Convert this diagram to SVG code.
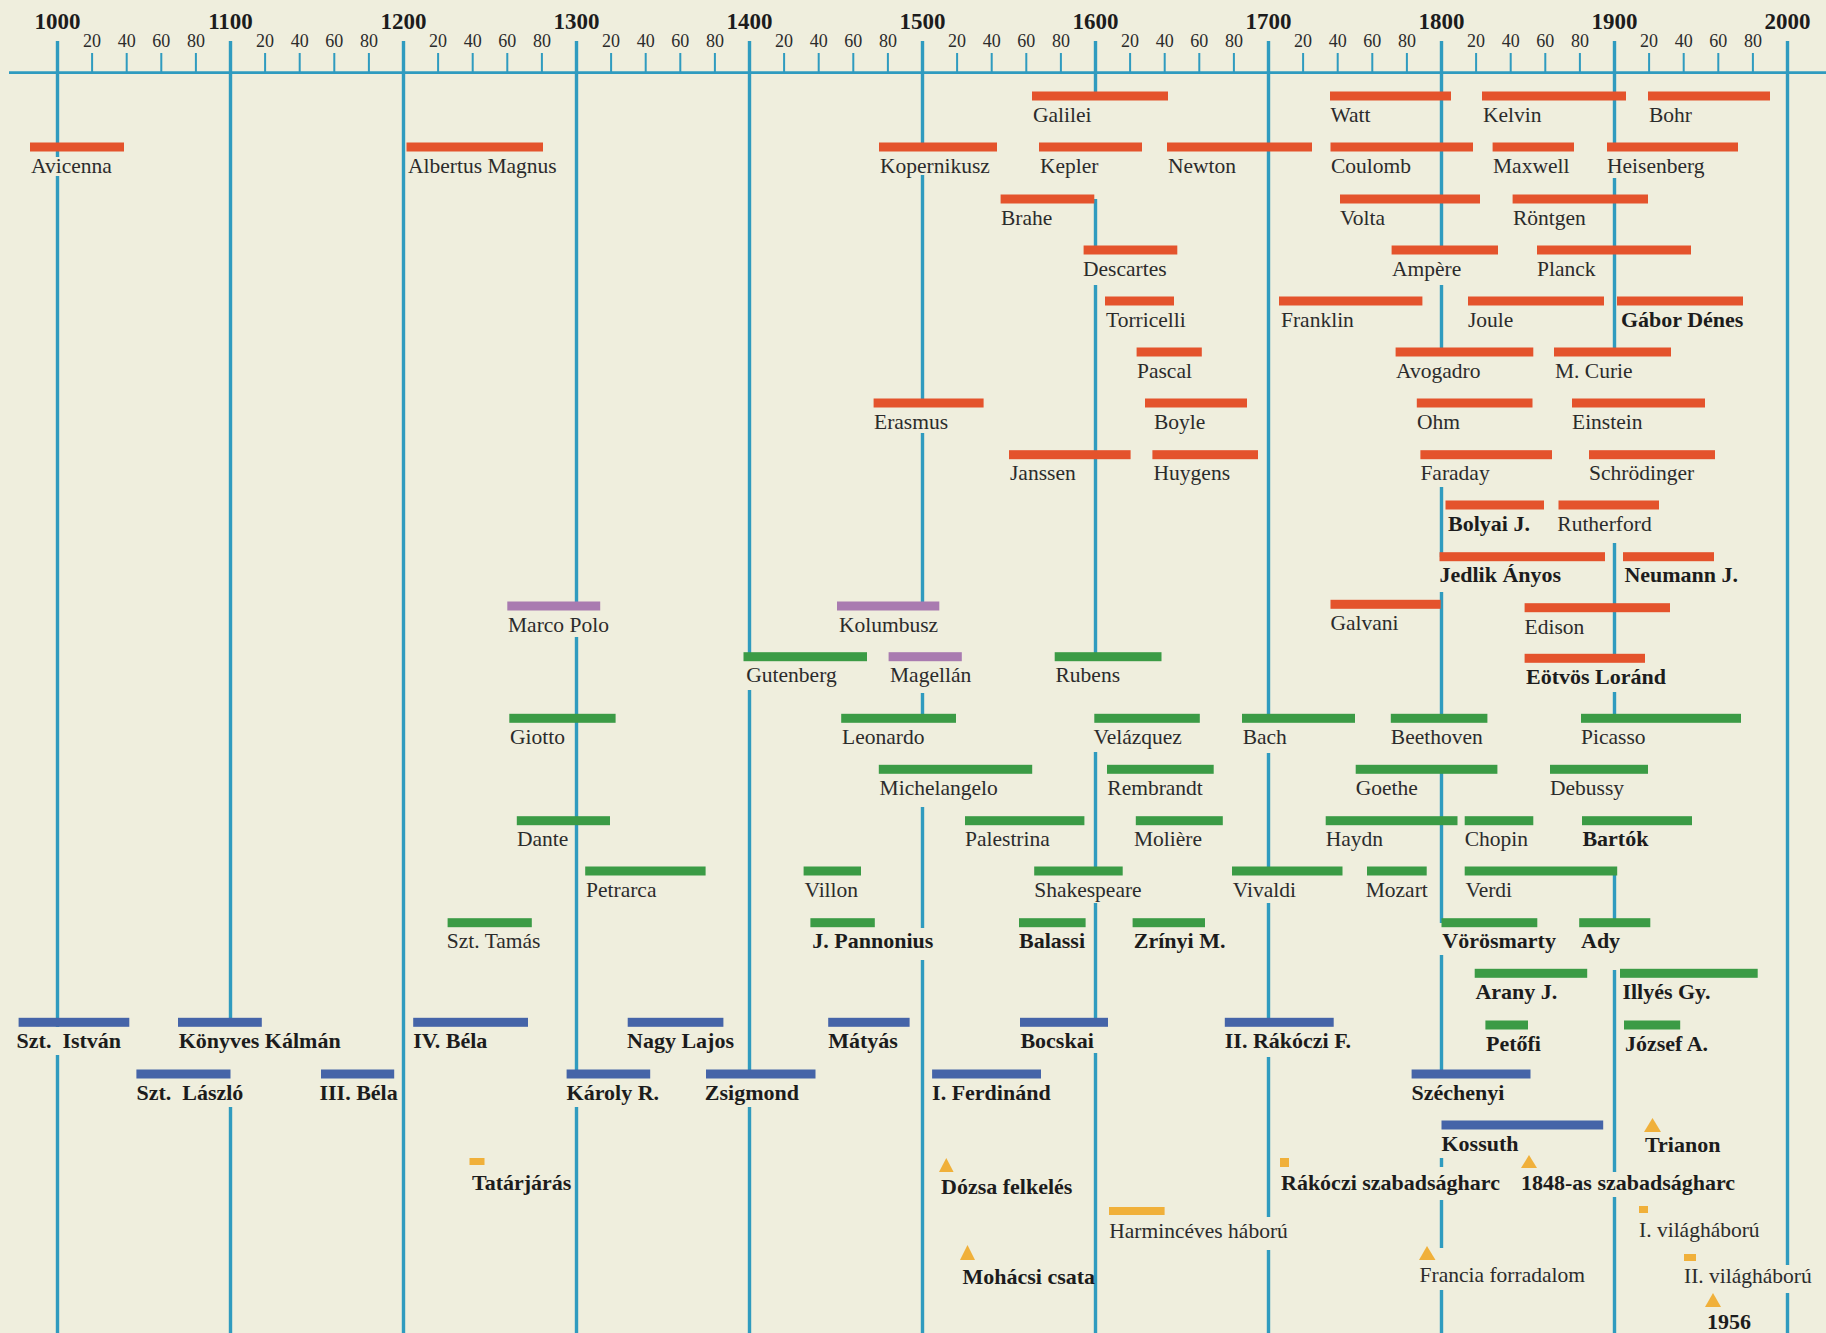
<svg xmlns="http://www.w3.org/2000/svg" width="1826" height="1333" viewBox="0 0 1826 1333">
<style>
.bg{fill:#efeedd}
.ln{stroke:#2f9bbf;stroke-width:3.4;fill:none}
.ax{stroke:#2f9bbf;stroke-width:2.8}
.tk{stroke:#2f9bbf;stroke-width:2}
.r{fill:#e4532c}
.g{fill:#3b9b45}
.b{fill:#4564a8}
.p{fill:#a97bb0}
.y{fill:#f0b03a}
text{font-family:"Liberation Serif","Times New Roman",serif}
.t{font-size:21.5px;fill:#2b2b2b}
.tb{font-size:22px;font-weight:bold;fill:#1c1c1c}
.yr{font-size:23px;font-weight:bold;fill:#1c1c1c;text-anchor:middle}
.mn{font-size:18px;fill:#2b2b2b;text-anchor:middle}
</style>
<rect class="bg" x="0" y="0" width="1826" height="1333"/>

<g id="axis">
<line class="ax" x1="9" y1="72.7" x2="1826" y2="72.7"/>
<g id="minor-ticks">
<path class="tk" d="M92.1 53V72M126.7 53V72M161.3 53V72M195.9 53V72M265.1 53V72M299.7 53V72M334.3 53V72M368.9 53V72M438.1 53V72M472.7 53V72M507.3 53V72M541.9 53V72M611.1 53V72M645.7 53V72M680.3 53V72M714.9 53V72M784.1 53V72M818.7 53V72M853.3 53V72M887.9 53V72M957.1 53V72M991.7 53V72M1026.3 53V72M1060.9 53V72M1130.1 53V72M1164.7 53V72M1199.3 53V72M1233.9 53V72M1303.1 53V72M1337.7 53V72M1372.3 53V72M1406.9 53V72M1476.1 53V72M1510.7 53V72M1545.3 53V72M1579.9 53V72M1649.1 53V72M1683.7 53V72M1718.3 53V72M1752.9 53V72"/>
</g>
<g id="year-labels">
<text class="yr" x="57.5" y="29">1000</text>
<text class="yr" x="230.5" y="29">1100</text>
<text class="yr" x="403.5" y="29">1200</text>
<text class="yr" x="576.5" y="29">1300</text>
<text class="yr" x="749.5" y="29">1400</text>
<text class="yr" x="922.5" y="29">1500</text>
<text class="yr" x="1095.5" y="29">1600</text>
<text class="yr" x="1268.5" y="29">1700</text>
<text class="yr" x="1441.5" y="29">1800</text>
<text class="yr" x="1614.5" y="29">1900</text>
<text class="yr" x="1787.5" y="29">2000</text>
</g>
<g id="minor-labels">
<text class="mn" x="92.1" y="47">20</text><text class="mn" x="126.7" y="47">40</text><text class="mn" x="161.3" y="47">60</text><text class="mn" x="195.9" y="47">80</text>
<text class="mn" x="265.1" y="47">20</text><text class="mn" x="299.7" y="47">40</text><text class="mn" x="334.3" y="47">60</text><text class="mn" x="368.9" y="47">80</text>
<text class="mn" x="438.1" y="47">20</text><text class="mn" x="472.7" y="47">40</text><text class="mn" x="507.3" y="47">60</text><text class="mn" x="541.9" y="47">80</text>
<text class="mn" x="611.1" y="47">20</text><text class="mn" x="645.7" y="47">40</text><text class="mn" x="680.3" y="47">60</text><text class="mn" x="714.9" y="47">80</text>
<text class="mn" x="784.1" y="47">20</text><text class="mn" x="818.7" y="47">40</text><text class="mn" x="853.3" y="47">60</text><text class="mn" x="887.9" y="47">80</text>
<text class="mn" x="957.1" y="47">20</text><text class="mn" x="991.7" y="47">40</text><text class="mn" x="1026.3" y="47">60</text><text class="mn" x="1060.9" y="47">80</text>
<text class="mn" x="1130.1" y="47">20</text><text class="mn" x="1164.7" y="47">40</text><text class="mn" x="1199.3" y="47">60</text><text class="mn" x="1233.9" y="47">80</text>
<text class="mn" x="1303.1" y="47">20</text><text class="mn" x="1337.7" y="47">40</text><text class="mn" x="1372.3" y="47">60</text><text class="mn" x="1406.9" y="47">80</text>
<text class="mn" x="1476.1" y="47">20</text><text class="mn" x="1510.7" y="47">40</text><text class="mn" x="1545.3" y="47">60</text><text class="mn" x="1579.9" y="47">80</text>
<text class="mn" x="1649.1" y="47">20</text><text class="mn" x="1683.7" y="47">40</text><text class="mn" x="1718.3" y="47">60</text><text class="mn" x="1752.9" y="47">80</text>
</g>
</g>

<g id="connectors">
<path class="ln" d="M57.5 41V157M57.5 176V1027M57.5 1055V1333"/>
<path class="ln" d="M230.5 41V1022M230.5 1107V1333"/>
<path class="ln" d="M403.5 41V1333"/>
<path class="ln" d="M576.5 41V606M576.5 637V1074M576.5 1107V1333"/>
<path class="ln" d="M749.5 41V657M749.5 690V1074M749.5 1107V1333"/>
<path class="ln" d="M922.5 41V147M922.5 175V403M922.5 433V606M922.5 693V718M922.5 807V928M922.5 960V1333"/>
<path class="ln" d="M1095.5 41V96M1095.5 199V250M1095.5 285V657M1095.5 752V871M1095.5 903V1022M1095.5 1053V1333"/>
<path class="ln" d="M1268.5 41V718M1268.5 753V871M1268.5 903V1022M1268.5 1057V1217M1268.5 1250V1333"/>
<path class="ln" d="M1441.5 41V250M1441.5 285V352M1441.5 487V557M1441.5 592V718M1441.5 769V923M1441.5 955V1074M1441.5 1158V1167M1441.5 1200V1248M1441.5 1290V1333"/>
<path class="ln" d="M1614.5 41V147M1614.5 178V352M1614.5 543V658M1614.5 692V718M1614.5 871V923M1614.5 970V1172M1614.5 1197V1333"/>
<path class="ln" d="M1787.5 41V1265M1787.5 1293V1333"/>
</g>

<g id="scientists">
<g id="galilei"><rect class="r" x="1032" y="91.5" width="136" height="9"/><text class="t" x="1033" y="121.5">Galilei</text></g>
<g id="watt"><rect class="r" x="1330" y="91.5" width="121" height="9"/><text class="t" x="1330.5" y="121.5">Watt</text></g>
<g id="kelvin"><rect class="r" x="1482" y="91.5" width="144" height="9"/><text class="t" x="1483" y="121.5">Kelvin</text></g>
<g id="bohr"><rect class="r" x="1648" y="91.5" width="122" height="9"/><text class="t" x="1649" y="121.5">Bohr</text></g>
<g id="avicenna"><rect class="r" x="30" y="142.5" width="94" height="9"/><text class="t" x="31" y="172.5">Avicenna</text></g>
<g id="albertus"><rect class="r" x="406.5" y="142.5" width="136.5" height="9"/><text class="t" x="408" y="172.5">Albertus Magnus</text></g>
<g id="kopernikusz"><rect class="r" x="879" y="142.5" width="118" height="9"/><text class="t" x="880" y="172.5">Kopernikusz</text></g>
<g id="kepler"><rect class="r" x="1039" y="142.5" width="103" height="9"/><text class="t" x="1040" y="172.5">Kepler</text></g>
<g id="newton"><rect class="r" x="1167" y="142.5" width="145" height="9"/><text class="t" x="1168" y="172.5">Newton</text></g>
<g id="coulomb"><rect class="r" x="1330.5" y="142.5" width="142.5" height="9"/><text class="t" x="1331" y="172.5">Coulomb</text></g>
<g id="maxwell"><rect class="r" x="1492.6" y="142.5" width="81.4" height="9"/><text class="t" x="1493" y="172.5">Maxwell</text></g>
<g id="heisenberg"><rect class="r" x="1607" y="142.5" width="131" height="9"/><text class="t" x="1607" y="172.5">Heisenberg</text></g>
<g id="brahe"><rect class="r" x="1000.6" y="194.5" width="93.7" height="9"/><text class="t" x="1001" y="224.5">Brahe</text></g>
<g id="volta"><rect class="r" x="1340" y="194.5" width="140" height="9"/><text class="t" x="1340" y="224.5">Volta</text></g>
<g id="rontgen"><rect class="r" x="1512.6" y="194.5" width="135.4" height="9"/><text class="t" x="1513" y="224.5">Röntgen</text></g>
<g id="descartes"><rect class="r" x="1083.6" y="245.5" width="93.7" height="9"/><text class="t" x="1083" y="275.5">Descartes</text></g>
<g id="ampere"><rect class="r" x="1391.6" y="245.5" width="106.4" height="9"/><text class="t" x="1392" y="275.5">Ampère</text></g>
<g id="planck"><rect class="r" x="1537" y="245.5" width="154" height="9"/><text class="t" x="1537" y="275.5">Planck</text></g>
<g id="torricelli"><rect class="r" x="1105" y="296.5" width="69" height="9"/><text class="t" x="1106" y="326.5">Torricelli</text></g>
<g id="franklin"><rect class="r" x="1279" y="296.5" width="143.4" height="9"/><text class="t" x="1281" y="326.5">Franklin</text></g>
<g id="joule"><rect class="r" x="1468" y="296.5" width="136" height="9"/><text class="t" x="1468" y="326.5">Joule</text></g>
<g id="gabor"><rect class="r" x="1617" y="296.5" width="126" height="9"/><text class="tb" x="1621" y="326.5">Gábor Dénes</text></g>
<g id="pascal"><rect class="r" x="1136.6" y="347.5" width="65.2" height="9"/><text class="t" x="1137" y="377.5">Pascal</text></g>
<g id="avogadro"><rect class="r" x="1395.6" y="347.5" width="137.7" height="9"/><text class="t" x="1396" y="377.5">Avogadro</text></g>
<g id="curie"><rect class="r" x="1554" y="347.5" width="117" height="9"/><text class="t" x="1555" y="377.5">M. Curie</text></g>
<g id="erasmus"><rect class="r" x="873.6" y="398.5" width="110" height="9"/><text class="t" x="874" y="428.5">Erasmus</text></g>
<g id="boyle"><rect class="r" x="1145" y="398.5" width="102" height="9"/><text class="t" x="1154" y="428.5">Boyle</text></g>
<g id="ohm"><rect class="r" x="1416.8" y="398.5" width="115.7" height="9"/><text class="t" x="1417" y="428.5">Ohm</text></g>
<g id="einstein"><rect class="r" x="1572" y="398.5" width="133" height="9"/><text class="t" x="1572" y="428.5">Einstein</text></g>
<g id="janssen"><rect class="r" x="1009" y="450.2" width="121.6" height="9"/><text class="t" x="1010" y="480">Janssen</text></g>
<g id="huygens"><rect class="r" x="1152.4" y="450.2" width="105.6" height="9"/><text class="t" x="1153.6" y="480">Huygens</text></g>
<g id="faraday"><rect class="r" x="1420.4" y="450.2" width="131.6" height="9"/><text class="t" x="1420.4" y="480">Faraday</text></g>
<g id="schrodinger"><rect class="r" x="1589" y="450.2" width="126" height="9"/><text class="t" x="1589" y="480">Schrödinger</text></g>
<g id="bolyai"><rect class="r" x="1445.5" y="500.5" width="98.5" height="9"/><text class="tb" x="1448" y="530.5">Bolyai J.</text></g>
<g id="rutherford"><rect class="r" x="1558.5" y="500.5" width="100.5" height="9"/><text class="t" x="1557.3" y="530.5">Rutherford</text></g>
<g id="jedlik"><rect class="r" x="1439.5" y="552.2" width="165.5" height="9"/><text class="tb" x="1439.5" y="582">Jedlik Ányos</text></g>
<g id="neumann"><rect class="r" x="1623" y="552.2" width="91" height="9"/><text class="tb" x="1624.4" y="582">Neumann J.</text></g>
<g id="galvani"><rect class="r" x="1330.5" y="599.8" width="110.2" height="9"/><text class="t" x="1330.5" y="630">Galvani</text></g>
<g id="edison"><rect class="r" x="1524.6" y="603.2" width="145.4" height="9"/><text class="t" x="1524.6" y="633.5">Edison</text></g>
<g id="eotvos"><rect class="r" x="1524.6" y="653.8" width="120.4" height="9"/><text class="tb" x="1526" y="683.5">Eötvös Loránd</text></g>
</g>

<g id="explorers">
<g id="marcopolo"><rect class="p" x="507.3" y="601.5" width="92.9" height="9"/><text class="t" x="508" y="631.5">Marco Polo</text></g>
<g id="kolumbusz"><rect class="p" x="837" y="601.5" width="102.3" height="9"/><text class="t" x="839" y="631.5">Kolumbusz</text></g>
<g id="magellan"><rect class="p" x="888.6" y="652.2" width="73.2" height="9"/><text class="t" x="890" y="682">Magellán</text></g>
</g>

<g id="artists">
<g id="gutenberg"><rect class="g" x="743.5" y="652.2" width="123.5" height="9"/><text class="t" x="746.3" y="682">Gutenberg</text></g>
<g id="rubens"><rect class="g" x="1054.7" y="652.2" width="106.8" height="9"/><text class="t" x="1055.5" y="682">Rubens</text></g>
<g id="giotto"><rect class="g" x="509.3" y="713.8" width="106.3" height="9"/><text class="t" x="510" y="744">Giotto</text></g>
<g id="leonardo"><rect class="g" x="841.2" y="713.8" width="114.8" height="9"/><text class="t" x="842" y="744">Leonardo</text></g>
<g id="velazquez"><rect class="g" x="1094.3" y="713.8" width="105.5" height="9"/><text class="t" x="1093.5" y="744">Velázquez</text></g>
<g id="bach"><rect class="g" x="1242" y="713.8" width="113" height="9"/><text class="t" x="1242.7" y="744">Bach</text></g>
<g id="beethoven"><rect class="g" x="1390.8" y="713.8" width="96.6" height="9"/><text class="t" x="1390.8" y="744">Beethoven</text></g>
<g id="picasso"><rect class="g" x="1581" y="713.8" width="160" height="9"/><text class="t" x="1581" y="744">Picasso</text></g>
<g id="michelangelo"><rect class="g" x="878.8" y="764.8" width="153.4" height="9"/><text class="t" x="879.6" y="795">Michelangelo</text></g>
<g id="rembrandt"><rect class="g" x="1107" y="764.8" width="106.7" height="9"/><text class="t" x="1107.3" y="795">Rembrandt</text></g>
<g id="goethe"><rect class="g" x="1355.7" y="764.8" width="141.7" height="9"/><text class="t" x="1355.7" y="795">Goethe</text></g>
<g id="debussy"><rect class="g" x="1550" y="764.8" width="98" height="9"/><text class="t" x="1550" y="795">Debussy</text></g>
<g id="dante"><rect class="g" x="516.8" y="816.2" width="93.2" height="9"/><text class="t" x="517" y="846">Dante</text></g>
<g id="palestrina"><rect class="g" x="965" y="816.2" width="119.4" height="9"/><text class="t" x="965" y="846">Palestrina</text></g>
<g id="moliere"><rect class="g" x="1135.8" y="816.2" width="87" height="9"/><text class="t" x="1134" y="846">Molière</text></g>
<g id="haydn"><rect class="g" x="1325.7" y="816.2" width="131.8" height="9"/><text class="t" x="1325.7" y="846">Haydn</text></g>
<g id="chopin"><rect class="g" x="1464.7" y="816.2" width="68.6" height="9"/><text class="t" x="1464.7" y="846">Chopin</text></g>
<g id="bartok"><rect class="g" x="1582" y="816.2" width="110" height="9"/><text class="tb" x="1582.4" y="846">Bartók</text></g>
<g id="petrarca"><rect class="g" x="585.2" y="866.5" width="120.4" height="9"/><text class="t" x="586" y="896.5">Petrarca</text></g>
<g id="villon"><rect class="g" x="803.6" y="866.5" width="57.4" height="9"/><text class="t" x="804.4" y="896.5">Villon</text></g>
<g id="shakespeare"><rect class="g" x="1034.2" y="866.5" width="88.5" height="9"/><text class="t" x="1034.2" y="896.5">Shakespeare</text></g>
<g id="vivaldi"><rect class="g" x="1232" y="866.5" width="110.5" height="9"/><text class="t" x="1232.7" y="896.5">Vivaldi</text></g>
<g id="mozart"><rect class="g" x="1367" y="866.5" width="59.7" height="9"/><text class="t" x="1365.7" y="896.5">Mozart</text></g>
<g id="verdi"><rect class="g" x="1464.7" y="866.5" width="152.5" height="9"/><text class="t" x="1465.5" y="896.5">Verdi</text></g>
<g id="szttamas"><rect class="g" x="447.6" y="918.2" width="84.2" height="9"/><text class="t" x="446.8" y="948">Szt. Tamás</text></g>
<g id="pannonius"><rect class="g" x="810.4" y="918.2" width="64.4" height="9"/><text class="tb" x="812.3" y="948">J. Pannonius</text></g>
<g id="balassi"><rect class="g" x="1019" y="918.2" width="66.6" height="9"/><text class="tb" x="1019" y="948">Balassi</text></g>
<g id="zrinyi"><rect class="g" x="1132.6" y="918.2" width="72.4" height="9"/><text class="tb" x="1133.8" y="948">Zrínyi M.</text></g>
<g id="vorosmarty"><rect class="g" x="1441.5" y="918.2" width="95.8" height="9"/><text class="tb" x="1442.3" y="948">Vörösmarty</text></g>
<g id="ady"><rect class="g" x="1579.2" y="918.2" width="71.1" height="9"/><text class="tb" x="1581" y="948">Ady</text></g>
<g id="arany"><rect class="g" x="1474.7" y="968.8" width="112.5" height="9"/><text class="tb" x="1475.4" y="999">Arany J.</text></g>
<g id="illyes"><rect class="g" x="1620" y="968.8" width="137.7" height="9"/><text class="tb" x="1622.4" y="999">Illyés Gy.</text></g>
<g id="petofi"><rect class="g" x="1485.4" y="1020.5" width="42.6" height="9"/><text class="tb" x="1486" y="1050.5">Petőfi</text></g>
<g id="jozsef"><rect class="g" x="1624" y="1020.5" width="56.2" height="9"/><text class="tb" x="1625" y="1050.5">József A.</text></g>
</g>

<g id="rulers">
<g id="istvan"><rect class="b" x="18.6" y="1017.8" width="110.7" height="9"/><text class="tb" x="16.6" y="1047.5" xml:space="preserve">Szt.  István</text></g>
<g id="kalman"><rect class="b" x="178" y="1017.8" width="83.8" height="9"/><text class="tb" x="178.7" y="1047.5">Könyves Kálmán</text></g>
<g id="bela4"><rect class="b" x="413.2" y="1017.8" width="114.8" height="9"/><text class="tb" x="413.2" y="1047.5">IV. Béla</text></g>
<g id="lajos"><rect class="b" x="627.7" y="1017.8" width="95.7" height="9"/><text class="tb" x="627" y="1047.5">Nagy Lajos</text></g>
<g id="matyas"><rect class="b" x="828.2" y="1017.8" width="81.4" height="9"/><text class="tb" x="828.2" y="1047.5">Mátyás</text></g>
<g id="bocskai"><rect class="b" x="1020" y="1017.8" width="88" height="9"/><text class="tb" x="1020.4" y="1047.5">Bocskai</text></g>
<g id="rakoczi"><rect class="b" x="1224.8" y="1017.8" width="108.9" height="9"/><text class="tb" x="1224.8" y="1047.5">II. Rákóczi F.</text></g>
<g id="laszlo"><rect class="b" x="136.4" y="1069.5" width="94.1" height="9"/><text class="tb" x="136.4" y="1099.5" xml:space="preserve">Szt.  László</text></g>
<g id="bela3"><rect class="b" x="321" y="1069.5" width="73.2" height="9"/><text class="tb" x="319.5" y="1099.5">III. Béla</text></g>
<g id="karoly"><rect class="b" x="566.6" y="1069.5" width="83.6" height="9"/><text class="tb" x="566.6" y="1099.5">Károly R.</text></g>
<g id="zsigmond"><rect class="b" x="706" y="1069.5" width="109.5" height="9"/><text class="tb" x="704.8" y="1099.5">Zsigmond</text></g>
<g id="ferdinand"><rect class="b" x="932.1" y="1069.5" width="108.9" height="9"/><text class="tb" x="932.1" y="1099.5">I. Ferdinánd</text></g>
<g id="szechenyi"><rect class="b" x="1411.6" y="1069.5" width="118.9" height="9"/><text class="tb" x="1411.6" y="1099.5">Széchenyi</text></g>
<g id="kossuth"><rect class="b" x="1441.5" y="1120.5" width="161.7" height="9"/><text class="tb" x="1441.5" y="1150.5">Kossuth</text></g>
</g>

<g id="events">
<g id="tatarjaras"><rect class="y" x="469.5" y="1158" width="15" height="7"/><text class="tb" x="472" y="1190">Tatárjárás</text></g>
<g id="dozsa"><polygon class="y" points="939,1172 946.3,1158 953.6,1172"/><text class="tb" x="941" y="1194">Dózsa felkelés</text></g>
<g id="harmincéves"><rect class="y" x="1109" y="1207" width="55.6" height="8"/><text class="t" x="1109.3" y="1238">Harmincéves háború</text></g>
<g id="mohacs"><polygon class="y" points="960,1260 967.5,1245 975,1260"/><text class="tb" x="962.5" y="1284">Mohácsi csata</text></g>
<g id="rakoczi-szh"><rect class="y" x="1280" y="1158" width="9" height="9"/><text class="tb" x="1281" y="1190">Rákóczi szabadságharc</text></g>
<g id="szh1848"><polygon class="y" points="1521,1168 1529,1155 1537,1168"/><text class="tb" x="1521" y="1190">1848-as szabadságharc</text></g>
<g id="trianon"><polygon class="y" points="1644,1132 1652.5,1118 1661,1132"/><text class="tb" x="1645" y="1152">Trianon</text></g>
<g id="vh1"><rect class="y" x="1639" y="1206" width="9" height="7"/><text class="t" x="1639" y="1237">I. világháború</text></g>
<g id="francia"><polygon class="y" points="1419,1260 1427,1246 1435.5,1260"/><text class="t" x="1419.6" y="1282">Francia forradalom</text></g>
<g id="vh2"><rect class="y" x="1684" y="1254" width="12" height="7"/><text class="t" x="1684" y="1283">II. világháború</text></g>
<g id="y1956"><polygon class="y" points="1705,1307 1713,1293 1721,1307"/><text class="tb" x="1707" y="1329">1956</text></g>
</g>
</svg>
